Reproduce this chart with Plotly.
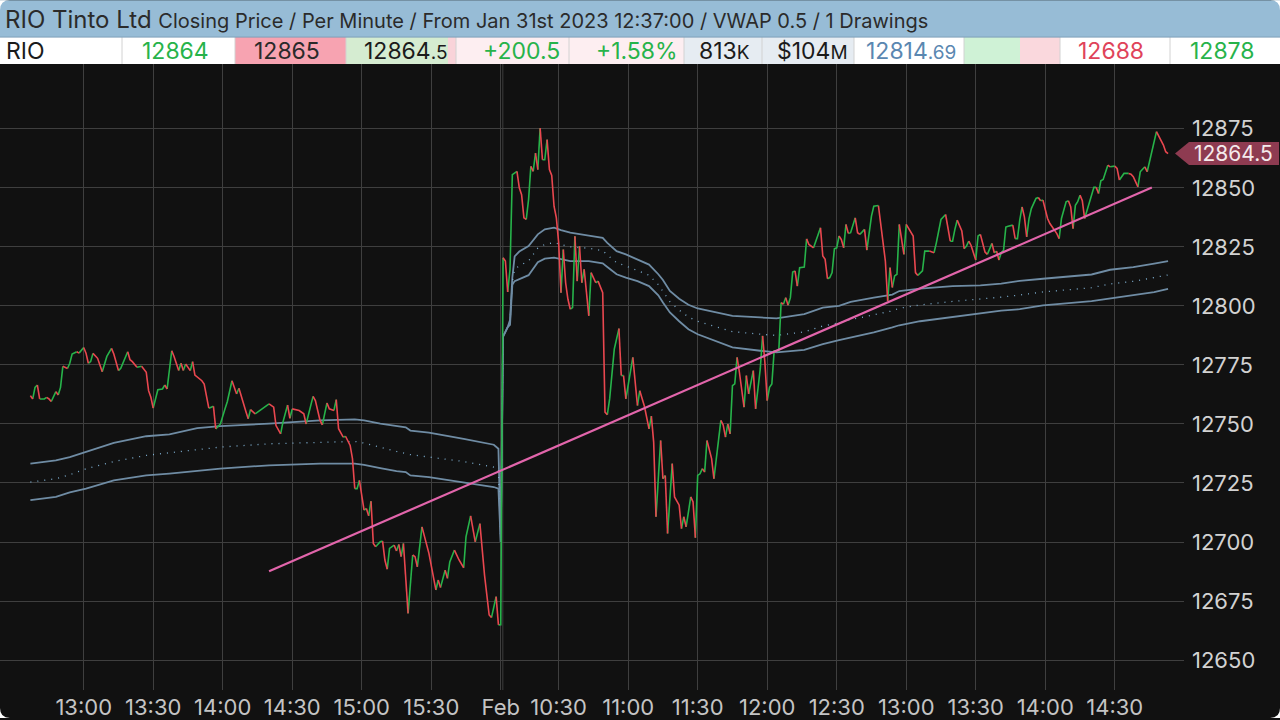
import plotly.graph_objects as go

# Per-minute closing prices, Jan 31st session
jan_times = ["12:37", "12:38", "12:39", "12:40", "12:41", "12:43", "12:44", "12:45", "12:46", "12:48",
             "12:49", "12:50", "12:51", "12:53", "12:54", "12:55", "12:57", "12:58", "13:00", "13:01",
             "13:02", "13:03", "13:04", "13:06", "13:08", "13:09", "13:10", "13:12", "13:13", "13:15",
             "13:16", "13:19", "13:20", "13:21", "13:23", "13:25", "13:27", "13:28", "13:29", "13:30",
             "13:32", "13:34", "13:35", "13:36", "13:38", "13:39", "13:41", "13:42", "13:43", "13:44",
             "13:46", "13:47", "13:48", "13:51", "13:52", "13:54", "13:56", "13:57", "13:59", "14:01",
             "14:02", "14:04", "14:06", "14:07", "14:09", "14:10", "14:11", "14:12", "14:14", "14:16",
             "14:17", "14:20", "14:22", "14:23", "14:25", "14:26", "14:28", "14:29", "14:30", "14:33",
             "14:35", "14:36", "14:39", "14:40", "14:42", "14:43", "14:45", "14:46", "14:48", "14:49",
             "14:50", "14:52", "14:53", "14:55", "14:56", "14:57", "14:58", "14:59", "15:01", "15:02",
             "15:03", "15:04", "15:05", "15:06", "15:08", "15:09", "15:10", "15:11", "15:12", "15:14",
             "15:15", "15:16", "15:17", "15:18", "15:20", "15:22", "15:23", "15:24", "15:26", "15:29",
             "15:32", "15:33", "15:34", "15:36", "15:37", "15:38", "15:40", "15:42", "15:44", "15:45",
             "15:47", "15:49", "15:51", "15:53", "15:55", "15:56", "15:58", "15:59"]
jan_prices = [12762.0, 12760.6, 12765.5, 12766.5, 12760.6, 12760.6, 12761.3, 12760.6, 12759.5, 12763.7,
              12762.3, 12765.5, 12774.4, 12773.5, 12775.7, 12779.6, 12780.6, 12780.0, 12782.4, 12780.0,
              12775.7, 12776.4, 12779.9, 12777.8, 12772.1, 12775.4, 12778.6, 12782.0, 12779.6, 12772.6,
              12773.6, 12780.6, 12777.2, 12776.4, 12774.0, 12774.4, 12771.9, 12764.1, 12761.3, 12756.7,
              12764.5, 12764.8, 12766.5, 12764.8, 12781.0, 12778.6, 12772.6, 12775.7, 12772.6, 12775.4,
              12772.6, 12776.4, 12770.7, 12768.3, 12766.9, 12756.7, 12757.5, 12747.9, 12750.0, 12756.4,
              12759.5, 12768.3, 12762.7, 12765.1, 12759.2, 12755.3, 12752.2, 12756.1, 12754.3, 12755.7,
              12756.4, 12758.5, 12757.1, 12749.3, 12745.8, 12750.8, 12758.0, 12752.4, 12756.4, 12755.7,
              12754.3, 12750.0, 12761.7, 12759.9, 12751.5, 12749.6, 12758.9, 12756.4, 12755.7, 12760.3,
              12748.0, 12744.4, 12744.8, 12740.9, 12735.3, 12722.6, 12722.6, 12726.1, 12713.5, 12714.2,
              12711.1, 12717.3, 12699.4, 12698.0, 12700.1, 12700.4, 12692.4, 12688.5, 12697.3, 12698.7,
              12696.2, 12699.0, 12693.8, 12699.4, 12669.8, 12694.5, 12693.8, 12689.5, 12706.4, 12695.2,
              12679.7, 12683.9, 12680.7, 12688.1, 12684.6, 12691.6, 12696.6, 12692.4, 12689.1, 12702.2,
              12711.1, 12700.1, 12707.8, 12686.0, 12669.1, 12668.0, 12676.9, 12664.9]

# Feb 1st session
feb_times = ["10:05", "10:06", "10:07", "10:08", "10:09", "10:10", "10:12", "10:13", "10:14", "10:15",
             "10:16", "10:17", "10:18", "10:19", "10:20", "10:21", "10:22", "10:23", "10:24", "10:25",
             "10:26", "10:27", "10:28", "10:29", "10:30", "10:31", "10:32", "10:33", "10:34", "10:35",
             "10:36", "10:37", "10:38", "10:39", "10:40", "10:41", "10:43", "10:44", "10:46", "10:47",
             "10:49", "10:50", "10:51", "10:52", "10:54", "10:56", "10:57", "10:58", "10:59", "11:02",
             "11:04", "11:05", "11:07", "11:09", "11:10", "11:11", "11:12", "11:14", "11:15", "11:16",
             "11:17", "11:19", "11:20", "11:22", "11:23", "11:24", "11:25", "11:27", "11:28", "11:29",
             "11:30", "11:31", "11:32", "11:33", "11:34", "11:36", "11:37", "11:39", "11:40", "11:41",
             "11:42", "11:43", "11:44", "11:45", "11:46", "11:47", "11:48", "11:50", "11:51", "11:52",
             "11:54", "11:55", "11:57", "11:58", "11:59", "12:00", "12:01", "12:02", "12:03", "12:05",
             "12:06", "12:07", "12:08", "12:09", "12:10", "12:11", "12:12", "12:13", "12:14", "12:16",
             "12:17", "12:18", "12:20", "12:21", "12:22", "12:23", "12:24", "12:25", "12:26", "12:27",
             "12:28", "12:29", "12:30", "12:31", "12:32", "12:33", "12:34", "12:35", "12:36", "12:38",
             "12:39", "12:40", "12:42", "12:43", "12:44", "12:45", "12:46", "12:48", "12:49", "12:50",
             "12:51", "12:52", "12:53", "12:54", "12:55", "12:56", "12:57", "12:58", "12:59", "13:00",
             "13:02", "13:03", "13:04", "13:05", "13:07", "13:08", "13:10", "13:12", "13:13", "13:15",
             "13:17", "13:18", "13:19", "13:20", "13:21", "13:22", "13:24", "13:25", "13:26", "13:27",
             "13:28", "13:30", "13:31", "13:32", "13:34", "13:35", "13:37", "13:38", "13:39", "13:40",
             "13:41", "13:42", "13:43", "13:44", "13:46", "13:47", "13:48", "13:49", "13:50", "13:51",
             "13:52", "13:53", "13:54", "13:56", "13:57", "13:58", "13:59", "14:01", "14:02", "14:04",
             "14:05", "14:06", "14:07", "14:09", "14:10", "14:11", "14:12", "14:13", "14:14", "14:15",
             "14:16", "14:17", "14:18", "14:19", "14:21", "14:22", "14:23", "14:24", "14:25", "14:27",
             "14:28", "14:30", "14:31", "14:32", "14:34", "14:36", "14:37", "14:38", "14:40", "14:41",
             "14:43", "14:44", "14:46", "14:48", "14:50", "14:51", "14:52", "14:53"]
feb_prices = [12665.0, 12820.4, 12819.0, 12805.9, 12815.5, 12855.6, 12857.0, 12850.0, 12847.1, 12837.3,
              12836.6, 12845.0, 12859.1, 12857.0, 12864.7, 12857.7, 12875.3, 12861.9, 12861.9, 12870.4,
              12857.7, 12855.2, 12842.2, 12837.3, 12826.7, 12805.6, 12823.9, 12809.8, 12802.8, 12798.6,
              12799.3, 12829.5, 12810.5, 12825.3, 12809.8, 12815.5, 12795.8, 12814.1, 12809.8, 12810.5,
              12805.6, 12755.0, 12753.9, 12760.6, 12781.7, 12790.4, 12770.5, 12770.5, 12760.6, 12778.2,
              12757.8, 12764.1, 12757.5, 12747.9, 12753.3, 12742.3, 12710.7, 12743.0, 12726.8, 12728.2,
              12703.6, 12733.2, 12719.1, 12715.6, 12705.7, 12710.7, 12706.4, 12719.1, 12717.0, 12701.8,
              12728.2, 12728.9, 12731.1, 12729.6, 12743.0, 12735.3, 12726.8, 12744.4, 12751.5, 12749.6,
              12744.4, 12750.0, 12745.8, 12766.2, 12767.0, 12778.2, 12771.9, 12757.1, 12770.5, 12762.7,
              12772.6, 12756.4, 12773.3, 12787.3, 12776.1, 12759.9, 12765.5, 12766.9, 12781.0, 12781.0,
              12801.4, 12800.7, 12803.5, 12800.3, 12803.5, 12814.3, 12814.8, 12808.4, 12816.2, 12816.5,
              12828.4, 12826.0, 12824.6, 12827.4, 12829.6, 12833.1, 12821.1, 12819.7, 12811.5, 12812.0,
              12814.1, 12824.2, 12824.6, 12829.6, 12828.1, 12824.6, 12834.5, 12830.7, 12831.0, 12837.3,
              12831.0, 12830.3, 12832.4, 12823.6, 12830.3, 12838.0, 12842.2, 12842.5, 12833.8, 12827.4,
              12819.0, 12802.1, 12816.2, 12807.8, 12812.7, 12813.4, 12834.5, 12828.1, 12821.8, 12834.5,
              12831.0, 12829.6, 12814.1, 12812.9, 12814.8, 12823.2, 12823.2, 12822.5, 12826.7, 12836.6,
              12838.7, 12832.4, 12827.4, 12827.4, 12832.4, 12836.3, 12831.7, 12824.2, 12825.3, 12827.4,
              12825.6, 12819.4, 12829.6, 12830.3, 12822.8, 12821.8, 12826.5, 12822.5, 12823.2, 12819.4,
              12822.5, 12823.5, 12833.4, 12833.7, 12834.2, 12828.5, 12828.5, 12836.3, 12841.9, 12837.7,
              12829.2, 12837.0, 12841.2, 12845.5, 12845.9, 12844.5, 12844.8, 12837.0, 12834.9, 12832.0,
              12830.6, 12828.5, 12837.0, 12844.1, 12844.5, 12841.9, 12832.7, 12842.6, 12844.1, 12846.9,
              12844.5, 12837.0, 12840.5, 12843.3, 12850.2, 12850.2, 12847.6, 12853.0, 12853.5, 12859.6,
              12858.9, 12859.2, 12858.2, 12853.3, 12856.1, 12856.1, 12855.8, 12854.7, 12850.4, 12856.8,
              12858.9, 12856.8, 12866.0, 12873.8, 12870.3, 12868.1, 12865.3, 12864.5]

# VWAP bands (upper / vwap / lower)
vwap_jan_times = ["12:37", "12:48", "12:54", "13:01", "13:13", "13:27", "13:37", "13:49", "13:59", "14:20",
                  "14:42", "14:57", "15:01", "15:08", "15:15", "15:19", "15:21", "15:29", "15:44", "15:57", "15:59"]
vwap_jan_upper = [12733.2, 12734.6, 12736.0, 12738.1, 12742.0, 12744.8, 12745.6, 12748.2, 12749.1, 12750.1,
                  12751.5, 12751.9, 12751.5, 12750.1, 12749.0, 12748.6, 12747.2, 12746.3, 12743.7, 12741.2, 12739.5]
vwap_jan_mid = [12725.4, 12726.8, 12728.5, 12731.0, 12734.1, 12736.7, 12737.8, 12739.0, 12740.2, 12741.6,
                12742.3, 12742.6, 12741.9, 12740.0, 12738.4, 12737.5, 12737.0, 12736.0, 12734.1, 12731.7, 12731.0]
vwap_jan_lower = [12717.7, 12719.1, 12721.0, 12722.6, 12726.1, 12728.2, 12729.0, 12730.0, 12731.1, 12732.5,
                  12733.2, 12733.2, 12732.7, 12731.3, 12730.0, 12729.6, 12728.2, 12727.5, 12725.4, 12723.3, 12722.6]

vwap_feb_times = ["10:05", "10:06", "10:08", "10:09", "10:10", "10:11", "10:13", "10:17", "10:21", "10:24",
                  "10:28", "10:31", "10:35", "10:43", "10:49", "10:51", "10:55", "10:59", "11:04", "11:09",
                  "11:13", "11:15", "11:18", "11:22", "11:26", "11:30", "11:37", "11:45", "11:57", "12:04",
                  "12:16", "12:24", "12:31", "12:36", "12:46", "12:54", "12:57", "13:06", "13:20", "13:32",
                  "13:41", "13:49", "13:59", "14:20", "14:28", "14:38", "14:47", "14:53"]
vwap_feb_upper = [12700.0, 12787.0, 12791.0, 12794.0, 12812.0, 12821.0, 12823.0, 12825.3, 12830.3, 12832.4,
                  12833.1, 12832.1, 12831.0, 12829.8, 12828.8, 12826.7, 12823.2, 12821.8, 12819.7, 12817.5,
                  12813.4, 12811.0, 12806.3, 12803.0, 12800.5, 12798.9, 12797.5, 12795.8, 12795.1, 12794.7,
                  12796.5, 12799.3, 12800.0, 12801.7, 12803.5, 12804.8, 12806.3, 12807.3, 12808.4, 12808.7,
                  12809.4, 12810.6, 12811.5, 12813.3, 12815.3, 12816.4, 12817.9, 12819.0]
vwap_feb_mid = [12700.0, 12787.0, 12791.0, 12793.0, 12810.5, 12815.5, 12817.0, 12819.0, 12824.5, 12826.0,
                12826.8, 12826.0, 12825.0, 12824.4, 12823.4, 12821.6, 12818.3, 12816.9, 12815.1, 12813.0,
                12809.0, 12806.2, 12801.8, 12798.2, 12795.3, 12793.5, 12791.5, 12789.1, 12788.0, 12787.5,
                12789.0, 12791.5, 12792.8, 12794.2, 12796.2, 12797.9, 12799.0, 12800.4, 12801.9, 12802.8,
                12803.7, 12804.6, 12805.9, 12807.7, 12809.3, 12810.4, 12811.9, 12813.1]
vwap_feb_lower = [12700.0, 12787.0, 12791.0, 12792.0, 12809.0, 12810.5, 12811.3, 12813.0, 12818.5, 12820.0,
                  12820.4, 12819.7, 12819.0, 12819.0, 12818.0, 12816.5, 12813.4, 12812.0, 12810.5, 12808.4,
                  12804.5, 12801.4, 12797.2, 12793.5, 12790.1, 12788.0, 12785.5, 12782.4, 12781.0, 12780.3,
                  12781.4, 12783.8, 12785.5, 12786.6, 12788.8, 12790.9, 12791.8, 12793.5, 12795.3, 12796.9,
                  12798.0, 12798.6, 12800.2, 12802.0, 12803.2, 12804.4, 12805.8, 12807.2]

# the one drawing: trend line
trend_days = ["jan", "feb"]
trend_times = ["14:20", "14:46"]
trend_prices = [12687.6, 12850.1]

# axis ticks
jan_ticks = ["13:00", "13:30", "14:00", "14:30", "15:00", "15:30"]
feb_ticks = ["10:30", "11:00", "11:30", "12:00", "12:30", "13:00", "13:30", "14:00", "14:30"]
price_ticks = [12650, 12675, 12700, 12725, 12750, 12775, 12800, 12825, 12850, 12875]

# header
title = "RIO Tinto Ltd"
subtitle = "Closing Price / Per Minute / From Jan 31st 2023 12:37:00 / VWAP 0.5 / 1 Drawings"
quote_values = ["RIO", "12864", "12865", "12864.5", "+200.5", "+1.58%", "813K", "$104M",
                "12814.69", "12688", "12878"]

GREEN = "#27b34a"
RED = "#e9474f"
BAND = "#6f8ca4"


def minute_index(day, hhmm):
    # one slot per traded minute; the overnight gap is squeezed out
    h, m = (int(v) for v in hhmm.split(":"))
    if day == "jan":
        return h * 60 + m - (12 * 60 + 37)
    return h * 60 + m - 10 * 60 + 198


jan_x = [minute_index("jan", t) for t in jan_times]
feb_x = [minute_index("feb", t) for t in feb_times]
price_x = jan_x + feb_x
price_y = jan_prices + feb_prices

# split the close line into rising (green) and falling (red) runs
runs = []
for i in range(1, len(price_y)):
    up = price_y[i] >= price_y[i - 1]
    if runs and runs[-1][0] == up:
        runs[-1][1].append(i)
    else:
        runs.append([up, [i - 1, i]])

up_x, up_y, dn_x, dn_y = [], [], [], []
for up, idx in runs:
    xs = [price_x[k] for k in idx] + [None]
    ys = [price_y[k] for k in idx] + [None]
    if up:
        up_x += xs
        up_y += ys
    else:
        dn_x += xs
        dn_y += ys

vwap_x = [minute_index("jan", t) for t in vwap_jan_times] + [minute_index("feb", t) for t in vwap_feb_times]

fig = go.Figure()
fig.add_trace(go.Scatter(x=vwap_x, y=vwap_jan_upper + vwap_feb_upper, mode="lines",
                         line=dict(color=BAND, width=1.8)))
fig.add_trace(go.Scatter(x=vwap_x, y=vwap_jan_mid + vwap_feb_mid, mode="lines",
                         line=dict(color="#7fb0d2", width=1.3, dash="1px,6px")))
fig.add_trace(go.Scatter(x=vwap_x, y=vwap_jan_lower + vwap_feb_lower, mode="lines",
                         line=dict(color=BAND, width=1.8)))
fig.add_trace(go.Scatter(x=up_x, y=up_y, mode="lines", line=dict(color=GREEN, width=1.6)))
fig.add_trace(go.Scatter(x=dn_x, y=dn_y, mode="lines", line=dict(color=RED, width=1.6)))
fig.add_trace(go.Scatter(x=[minute_index(d, t) for d, t in zip(trend_days, trend_times)],
                         y=trend_prices, mode="lines", line=dict(color="#e265ab", width=2.2)))

tick_vals = [minute_index("jan", t) for t in jan_ticks] + [minute_index("jan", "16:00")] + \
            [minute_index("feb", t) for t in feb_ticks]
tick_text = jan_ticks + ["Feb"] + feb_ticks

# pixel layout of the 1280x720 window
W, H = 1280, 720
PL, PR, PT, PB = 0, 1184, 64, 692
MIN_PX = 2.317
X0_PX = 30.4


def px(x):
    return (x - PL) / (PR - PL)


def py(y):
    return (PB - y) / (PB - PT)


shapes = []
# title bar and quote strip
shapes.append(dict(type="rect", xref="paper", yref="paper", x0=px(0), x1=px(W), y0=py(37), y1=py(0),
                   fillcolor="#97bcd6", line_width=0, layer="above"))
shapes.append(dict(type="rect", xref="paper", yref="paper", x0=px(0), x1=px(W), y0=py(64), y1=py(37),
                   fillcolor="#ffffff", line_width=0, layer="above"))
cells = [(235, 346, "#f7a3b1"), (346, 448, "#d5ecd1"), (448, 456, "#f9d3d9"), (456, 569, "#fdeef1"),
         (569, 684, "#fdeef1"), (684, 762, "#e6ecf2"), (762, 854, "#e6ecf2"), (964, 1020, "#cff2d6"),
         (1020, 1060, "#fad8dd")]
for x0, x1, c in cells:
    shapes.append(dict(type="rect", xref="paper", yref="paper", x0=px(x0), x1=px(x1), y0=py(64), y1=py(37),
                       fillcolor=c, line_width=0, layer="above"))
for xs in [122, 235, 346, 456, 569, 684, 762, 854, 964, 1060, 1170]:
    shapes.append(dict(type="line", xref="paper", yref="paper", x0=px(xs), x1=px(xs), y0=py(64), y1=py(37),
                       line=dict(color="#d2d2d2", width=1), layer="above"))
shapes.append(dict(type="line", xref="paper", yref="paper", x0=px(0), x1=px(W), y0=py(37), y1=py(37),
                   line=dict(color="#7f9fb8", width=1), layer="above"))

# rounded window corners
r = 10
for cx, cy, sx, sy in [(0, 0, 1, 1), (W, 0, -1, 1), (0, H, 1, -1), (W, H, -1, -1)]:
    path = "M {},{} L {},{} Q {},{} {},{} Z".format(px(cx), py(cy), px(cx + sx * r), py(cy),
                                                    px(cx), py(cy), px(cx), py(cy + sy * r))
    shapes.append(dict(type="path", xref="paper", yref="paper", path=path, fillcolor="#ffffff",
                       line_width=0, layer="above"))

# day boundary double line
shapes.append(dict(type="line", xref="x", yref="paper", x0=minute_index("jan", "16:00") + 0.9,
                   x1=minute_index("jan", "16:00") + 0.9, y0=0, y1=1,
                   line=dict(color="#3f3f3f", width=1), layer="below"))

# last price tag
last = feb_prices[-1]
half = 11.5 / 2.369
tag = "M {},{} L {},{} L {},{} L {},{} L {},{} Z".format(px(1175), last, px(1189), last + half,
                                                         px(1279), last + half, px(1279), last - half,
                                                         px(1189), last - half)
shapes.append(dict(type="path", xref="paper", yref="y", path=tag, fillcolor="#8e3b51",
                   line_width=0, layer="above"))

small = "<span style='font-size:19px'>{}</span>"
cell_text = [
    (quote_values[0], 4, "left", "#1b1b1b"),
    (quote_values[1], 175, "center", GREEN),
    (quote_values[2], 287, "center", "#2a2a2a"),
    (quote_values[3][:-2] + small.format(quote_values[3][-2:]), 450, "right", "#1b1b1b"),
    (quote_values[4], 562, "right", GREEN),
    (quote_values[5], 680, "right", GREEN),
    (quote_values[6][:-1] + small.format(quote_values[6][-1:]), 724, "center", "#1b1b1b"),
    (quote_values[7][:-1] + small.format(quote_values[7][-1:]), 850, "right", "#1b1b1b"),
    (quote_values[8][:-3] + small.format(quote_values[8][-3:]), 911, "center", "#5a87b1"),
    (quote_values[9], 1111, "center", "#e0435a"),
    (quote_values[10], 1222, "center", GREEN),
]

annotations = [dict(xref="paper", yref="paper", x=px(3), y=py(19), xanchor="left", yanchor="middle",
                    text=title + " <span style='font-size:20px'>" + subtitle + "</span>",
                    showarrow=False, font=dict(size=24, color="#2b2b2b"))]
for text, xpos, anchor, color in cell_text:
    annotations.append(dict(xref="paper", yref="paper", x=px(xpos), y=py(50.5), xanchor=anchor,
                            yanchor="middle", text=text, showarrow=False,
                            font=dict(size=23, color=color)))
annotations.append(dict(xref="paper", yref="y", x=px(1233), y=last, xanchor="center", yanchor="middle",
                        text=f"{last:.1f}", showarrow=False, font=dict(size=21, color="#f4eaec")))

fig.update_layout(
    width=W, height=H,
    margin=dict(l=PL, r=W - PR, t=PT, b=H - PB),
    paper_bgcolor="#111111", plot_bgcolor="#111111",
    showlegend=False, hovermode=False,
    font=dict(family="Inter, Roboto, sans-serif", color="#cfcfcf"),
    shapes=shapes, annotations=annotations,
    xaxis=dict(range=[(PL - X0_PX) / MIN_PX, (PR - X0_PX) / MIN_PX], tickvals=tick_vals, ticktext=tick_text,
               showgrid=True, gridcolor="#3f3f3f", gridwidth=1, zeroline=False, showline=False,
               ticks="", tickfont=dict(size=22, color="#c4c4c4"), ticklabelstandoff=2),
    yaxis=dict(range=[12650 - (PB - 662) / 2.369, 12875 + (129 - PT) / 2.369], side="right",
               tickvals=price_ticks, ticktext=[str(v) for v in price_ticks],
               showgrid=True, gridcolor="#3f3f3f", gridwidth=1, zeroline=False,
               showline=False, ticks="", tickfont=dict(size=22, color="#d2d2d2"), ticklabelstandoff=7),
)

# the page body has a default 8px margin; drop it so the figure fills the window
fig.write_html("out.html", config={"displayModeBar": False},
               post_script="document.body.style.margin = '0px';")
